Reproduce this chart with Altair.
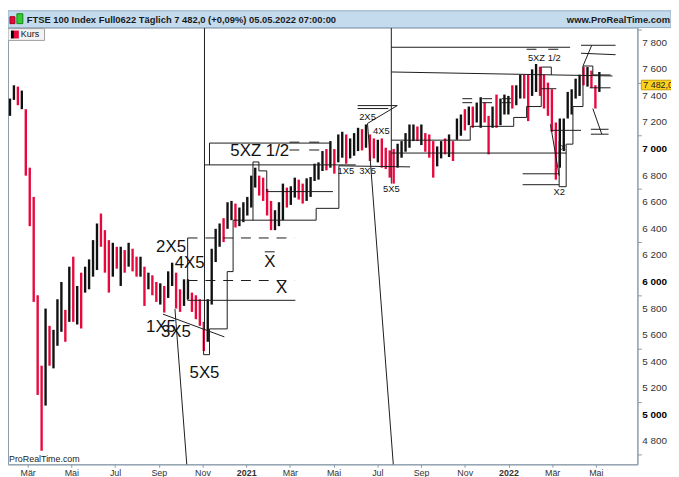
import json
import altair as alt
import pandas as pd

# ---------------- price bars (one bar per ~4 trading days) ----------------
# x unit: months after 1 March 2020
BAR_T0 = -0.81
BAR_DT = 0.181

highs = [7380, 7480, 7470, 7440, 7300, 6860, 6640, 5900, 5370, 5800,
         5670, 5640, 5870, 6000, 5790, 6115, 6190, 5970, 6070, 6115,
         6170, 6315, 6440, 6515, 6390, 6315, 6295, 6265, 6265, 6240,
         6295, 6250, 6190, 6190, 6115, 6070, 6050, 6000, 5990, 5970,
         6080, 6145, 6070, 5945, 6020, 6020, 5920, 5900, 5870, 5700,
         5870, 6250, 6400, 6440, 6480, 6600, 6610, 6590, 6560, 6600,
         6640, 6800, 6860, 6800, 6785, 6700, 6610, 6540, 6600, 6740,
         6710, 6720, 6785, 6770, 6740, 6780, 6790, 6890, 6900, 6985,
         7000, 7060, 7000, 7110, 7130, 7110, 7080, 7120, 7160, 7150,
         7185, 7110, 7080, 7070, 7080, 7010, 6990, 7000, 7040, 7060,
         7120, 7185, 7185, 7170, 7185, 7120, 7110, 7060, 7020, 7060,
         7080, 7110, 7060, 7230, 7260, 7300, 7320, 7320, 7350, 7390,
         7350, 7250, 7320, 7410, 7380, 7410, 7400, 7480, 7480, 7560,
         7560, 7560, 7600, 7640, 7620, 7560, 7500, 7450, 7200, 7230,
         7230, 7430, 7450, 7530, 7560, 7617, 7617, 7590, 7480, 7580]
lows = [7250, 7370, 7330, 7300, 6800, 6420, 5850, 5150, 4730, 5070,
        5370, 5350, 5520, 5625, 5550, 5700, 5700, 5680, 5650, 5920,
        5945, 6040, 6090, 6265, 6070, 5920, 6040, 6100, 5970, 6070,
        6115, 6080, 6040, 6040, 5820, 5945, 5900, 5850, 5830, 5770,
        5880, 5970, 5800, 5775, 5820, 5870, 5775, 5720, 5670, 5480,
        5550, 5830, 6150, 6265, 6300, 6400, 6465, 6410, 6420, 6450,
        6500, 6560, 6710, 6650, 6610, 6500, 6390, 6390, 6420, 6465,
        6560, 6580, 6635, 6620, 6590, 6610, 6640, 6760, 6770, 6835,
        6840, 6860, 6815, 6900, 6935, 6890, 6930, 6950, 6985, 6990,
        7010, 6910, 6930, 6900, 6860, 6850, 6785, 6740, 6860, 6935,
        6980, 7010, 7060, 7060, 7030, 6980, 6935, 6785, 6870, 6930,
        6960, 6940, 6910, 7070, 7100, 7140, 7180, 7160, 7200, 7160,
        7200, 6960, 7160, 7160, 7180, 7260, 7260, 7305, 7330, 7380,
        7380, 7210, 7400, 7430, 7400, 7305, 7250, 7130, 6770, 6860,
        6985, 7230, 7260, 7380, 7400, 7480, 7470, 7460, 7305, 7430]
# u = up bar (black), d = down bar (red); one string per row of ten bars
dir_rows = ["uududddddu", "duuudududu", "uuudddudud", "uddududdud", "uudduudddd",
            "uuuuduuduu", "uuudddduuu", "duudduuuuu", "duduuduuud", "uddudddduu",
            "uuududdduu", "duduududuu", "dduduuuduu", "dduudddddu", "uuuuududdu"]

# ---------------- axes ----------------
X_DOMAIN = [-0.9, 27.9]
Y_DOMAIN = [4628, 7914]
month_ticks = [0, 2, 4, 6, 8, 10, 12, 14, 16, 18, 20, 22, 24, 26]
month_labels = ["Mär", "Mai", "Jul", "Sep", "Nov", "2021", "Mär", "Mai", "Jul", "Sep", "Nov", "2022", "Mär", "Mai"]
price_ticks = list(range(4700, 7901, 100))
price_label_values = [4800, 5000, 5200, 5400, 5600, 5800, 6000, 6200, 6400, 6600, 6800,
                      7000, 7200, 7400, 7600, 7800]
price_label_texts = ["4 800", "5 000", "5 200", "5 400", "5 600", "5 800", "6 000", "6 200",
                     "6 400", "6 600", "6 800", "7 000", "7 200", "7 400", "7 600", "7 800"]

# ---------------- drawn annotation segments (t, price) -> (t2, price2) ----------------
seg_t1 = [8.09, 8.05, 8.05, 8.32, 6.19, 6.74, 7.32, 7.32, 8.32, 8.09, 8.32,          # 2020 group
          16.64, 15.55, 15.10, 15.10, 15.55, 16.64, 16.64,                          # 2021 group
          25.32, 25.32, 25.81,                                                      # top right
          16.64, 16.64, 22.65, 22.65, 25.77, 25.77, 25.86, 25.72,                   # horizontals
          11.98, 12.88, 11.98, 12.88, 22.83, 23.82, 10.85,                          # small bars
          19.89, 19.89, 20.80, 20.80, 21.70, 21.70, 23.92, 23.50, 23.92]
seg_v1 = [7914, 5647, 5453, 5453, 5758, 5796, 6331, 5862, 7045, 6881, 6881,
          7914, 7193, 7327, 7305, 7193, 7766, 7580,
          7781, 7721, 7781,
          7067, 6970, 6814, 6732, 7149, 7112, 7305, 7461,
          7052, 7052, 6993, 6993, 7751, 7751, 6227,
          7379, 7349, 7379, 7349, 7379, 7349, 7141, 7454, 7186]
seg_t2 = [8.09, 8.05, 8.32, 8.32, 9.00, 7.28, 7.32, 12.25, 13.79, 15.01, 8.32,
          16.64, 16.73, 16.91, 16.50, 16.91, 24.82, 26.76,
          26.90, 26.90, 25.41,
          20.25, 24.64, 24.32, 24.32, 26.58, 26.58, 26.27, 26.67,
          12.43, 13.34, 12.43, 13.34, 23.28, 24.28, 11.30,
          20.34, 20.34, 21.25, 21.25, 22.11, 22.11, 25.32, 24.19, 24.32]
seg_v2 = [5647, 5453, 5453, 5647, 5587, 4628, 5862, 5862, 7045, 6881, 7045,
          6740, 4628, 7327, 7305, 7327, 7766, 7550,
          7781, 7710, 7625,
          7067, 6970, 6814, 6732, 7149, 7112, 7112, 7461,
          7052, 7052, 6993, 6993, 7751, 7751, 6227,
          7379, 7349, 7379, 7349, 7379, 7349, 7141, 7454, 6799]

dash_t1 = [7.32, 7.32]
dash_v1 = [6331, 6011]
dash_t2 = [12.21, 12.21]
dash_v2 = [6331, 6011]

# step (trailing) lines: t, price; step_n = number of vertices per line
step_t = [8.32, 9.13, 9.13, 9.40, 9.40, 13.20, 13.20, 14.24, 14.24, 17.50,
          10.31, 10.31, 10.58, 10.58, 10.94, 10.94, 13.97,
          20.25, 20.25, 22.24, 22.24, 22.83, 22.83, 23.50, 23.50, 23.96, 23.96,
          24.32, 24.32, 24.64, 24.64, 24.95, 24.95, 25.41, 25.41, 25.86, 25.86, 26.67]
step_v = [5647, 5647, 6078, 6078, 6465, 6465, 6554, 6554, 6874, 6866,
          6465, 6903, 6903, 6836, 6836, 6680, 6680,
          7067, 7171, 7171, 7238, 7238, 7320, 7320, 7617, 7617, 7558,
          7059, 6717, 6717, 7037, 7037, 7320, 7320, 7625, 7625, 7558, 7558]
step_n = [10, 7, 10, 11]

# text labels
lab_text = ["2X5", "4X5", "1X5", "3X5", "5X5", "X", "X", "5XZ 1/2",
            "1X5", "3X5", "2X5", "4X5", "5X5", "5XZ 1/2", "X2", "X"]
lab_t = [6.56, 7.41, 6.10, 6.78, 8.09, 11.08, 11.62, 10.62,
         14.56, 15.55, 15.55, 16.18, 16.64, 23.64, 24.32, 24.50]
lab_v = [6264, 6145, 5662, 5625, 5312, 6152, 5952, 6985,
         6836, 6836, 7238, 7134, 6703, 7684, 6673, 7007]
lab_size = [17, 17, 17, 17, 17, 17, 17, 17, 9.5, 9.5, 9.5, 9.5, 9.5, 9.5, 9.5, 8]

LAST_PRICE = 7482
TITLE = "FTSE 100 Index Full0622 Täglich 7 482,0 (+0,09%) 05.05.2022 07:00:00"

FONT = "Liberation Sans"
W, H = 637, 442

# ---------------- build ----------------
dirs = list("".join(dir_rows))
n = min(len(highs), len(lows), len(dirs))
bars = pd.DataFrame({"t": [BAR_T0 + i * BAR_DT for i in range(n)],
                     "hi": highs[:n], "lo": lows[:n], "dir": dirs[:n]})
segs = pd.DataFrame({"t": seg_t1, "v": seg_v1, "t2": seg_t2, "v2": seg_v2})
dashes = pd.DataFrame({"t": dash_t1, "v": dash_v1, "t2": dash_t2, "v2": dash_v2})
step_id = []
for k, c in enumerate(step_n):
    step_id += [k] * c
steps = pd.DataFrame({"id": step_id[:len(step_t)], "t": step_t, "v": step_v,
                      "o": list(range(len(step_t)))})
labels = pd.DataFrame({"t": lab_t, "v": lab_v, "txt": lab_text, "s": lab_size})
plabels = pd.DataFrame({"v": price_label_values, "txt": price_label_texts})
plabels_norm = plabels[plabels["v"] % 1000 != 0]
plabels_bold = plabels[plabels["v"] % 1000 == 0]
one = pd.DataFrame({"a": [0]})

x_expr = json.dumps(month_labels, ensure_ascii=False) + "[round(datum.value/2)]"
x_axis = alt.Axis(values=month_ticks, labelExpr=x_expr, tickSize=3, labelFontSize=9,
                  labelPadding=1, labelColor="#333333", domainColor="#8a9bab",
                  tickColor="#8a9bab", labelFont=FONT, title=None, grid=False,
                  labelOverlap=False,
                  labelFontWeight={"condition": {"test": "datum.value == 10 || datum.value == 22",
                                                 "value": "bold"}, "value": "normal"})
y_axis = alt.Axis(orient="right", values=price_ticks, labels=False,
                  tickSize=4, domainColor="#8a9bab", tickColor="#8a9bab", title=None,
                  grid=False)

xs = alt.Scale(domain=X_DOMAIN, nice=False, zero=False)
ys = alt.Scale(domain=Y_DOMAIN, nice=False, zero=False)
X = alt.X("t:Q", scale=xs, axis=x_axis)
Y = alt.Y("v:Q", scale=ys, axis=y_axis)

bar_layer = alt.Chart(bars).mark_rule(strokeWidth=2.4).encode(
    x=X, y=alt.Y("hi:Q", scale=ys, axis=y_axis), y2="lo:Q",
    color=alt.Color("dir:N", scale=alt.Scale(domain=["u", "d"], range=["#111111", "#e8083e"]),
                    legend=None))

seg_layer = alt.Chart(segs).mark_rule(strokeWidth=1, color="#1a1a1a").encode(
    x=X, y=Y, x2="t2:Q", y2="v2:Q")
dash_layer = alt.Chart(dashes).mark_rule(strokeWidth=1, color="#1a1a1a", strokeDash=[10, 8]).encode(
    x=X, y=Y, x2="t2:Q", y2="v2:Q")
step_layer = alt.Chart(steps).mark_line(strokeWidth=1, color="#1a1a1a", interpolate="linear").encode(
    x=X, y=Y, detail="id:N", order="o:Q")
label_layer = alt.Chart(labels).mark_text(font=FONT, color="#111111", align="center",
                                          baseline="middle").encode(
    x=X, y=Y, text="txt:N", size=alt.Size("s:Q", scale=None, legend=None))

# right-hand price labels (placed through the y scale)
plabel_norm_layer = alt.Chart(plabels_norm).mark_text(font=FONT, fontSize=10, color="#333333",
                                                      align="left", baseline="middle").encode(
    x=alt.value(W + 5), y=Y, text="txt:N")
plabel_bold_layer = alt.Chart(plabels_bold).mark_text(font=FONT, fontSize=10, color="#000000",
                                                      fontWeight="bold", align="left",
                                                      baseline="middle").encode(
    x=alt.value(W + 5), y=Y, text="txt:N")

# header band, legend box, watermark, last price tag
band = alt.Chart(one).mark_rect(fill="#c4dbed", stroke="#93adc3", strokeWidth=1).encode(
    x=alt.value(0), x2=alt.value(671), y=alt.value(-17), y2=alt.value(0))
icon_r = alt.Chart(one).mark_rect(fill="#e8083e", stroke="#a00020").encode(
    x=alt.value(2), x2=alt.value(7), y=alt.value(-11), y2=alt.value(-4))
icon_g = alt.Chart(one).mark_rect(fill="#33cc33", stroke="#118811").encode(
    x=alt.value(9), x2=alt.value(15), y=alt.value(-14), y2=alt.value(-4))
title_txt = alt.Chart(one).mark_text(text=TITLE, font=FONT, fontSize=9.5, fontWeight="bold",
                                     color="#1a1a1a", align="left", baseline="middle").encode(
    x=alt.value(19), y=alt.value(-8))
site_txt = alt.Chart(one).mark_text(text="www.ProRealTime.com", font=FONT, fontSize=9.5,
                                    fontWeight="bold", color="#1a1a1a", align="right",
                                    baseline="middle").encode(x=alt.value(670), y=alt.value(-8))
leg_box = alt.Chart(one).mark_rect(fill="#f2f2f2", stroke="#a0a0a0").encode(
    x=alt.value(0), x2=alt.value(37), y=alt.value(1), y2=alt.value(13))
leg_k = alt.Chart(one).mark_rect(fill="#000000").encode(
    x=alt.value(3), x2=alt.value(6), y=alt.value(3), y2=alt.value(11))
leg_r = alt.Chart(one).mark_rect(fill="#e8083e").encode(
    x=alt.value(6), x2=alt.value(11), y=alt.value(3), y2=alt.value(11))
leg_txt = alt.Chart(one).mark_text(text="Kurs", font=FONT, fontSize=9, color="#111111",
                                   align="left", baseline="middle").encode(
    x=alt.value(13), y=alt.value(7))
wm_txt = alt.Chart(one).mark_text(text="ProRealTime.com", font=FONT, fontSize=9,
                                  color="#222222", align="left", baseline="middle").encode(
    x=alt.value(1), y=alt.value(437))
tag_box = alt.Chart(one).mark_rect(fill="#ffd21f", stroke="#c8a000").encode(
    x=alt.value(W + 4), x2=alt.value(W + 35), y=alt.datum(LAST_PRICE + 36), y2=alt.datum(LAST_PRICE - 36))
tag_txt = alt.Chart(one).mark_text(text="7 482,0", font=FONT, fontSize=9, color="#222222",
                                   align="left", baseline="middle").encode(
    x=alt.value(W + 6), y=alt.datum(LAST_PRICE))

chart = alt.layer(
    bar_layer, seg_layer, dash_layer, step_layer, label_layer,
    plabel_norm_layer, plabel_bold_layer,
    band, icon_r, icon_g, title_txt, site_txt, leg_box, leg_k, leg_r, leg_txt, wm_txt,
    tag_box, tag_txt
).properties(
    width=W, height=H,
    padding={"left": 0, "top": 17, "right": 34, "bottom": 10},
    autosize=alt.AutoSizeParams(type="none"),
    background="white",
).configure_view(stroke="#8a9bab", strokeWidth=1)

chart.save("out.html", embed_options={"renderer": "svg", "actions": False})
